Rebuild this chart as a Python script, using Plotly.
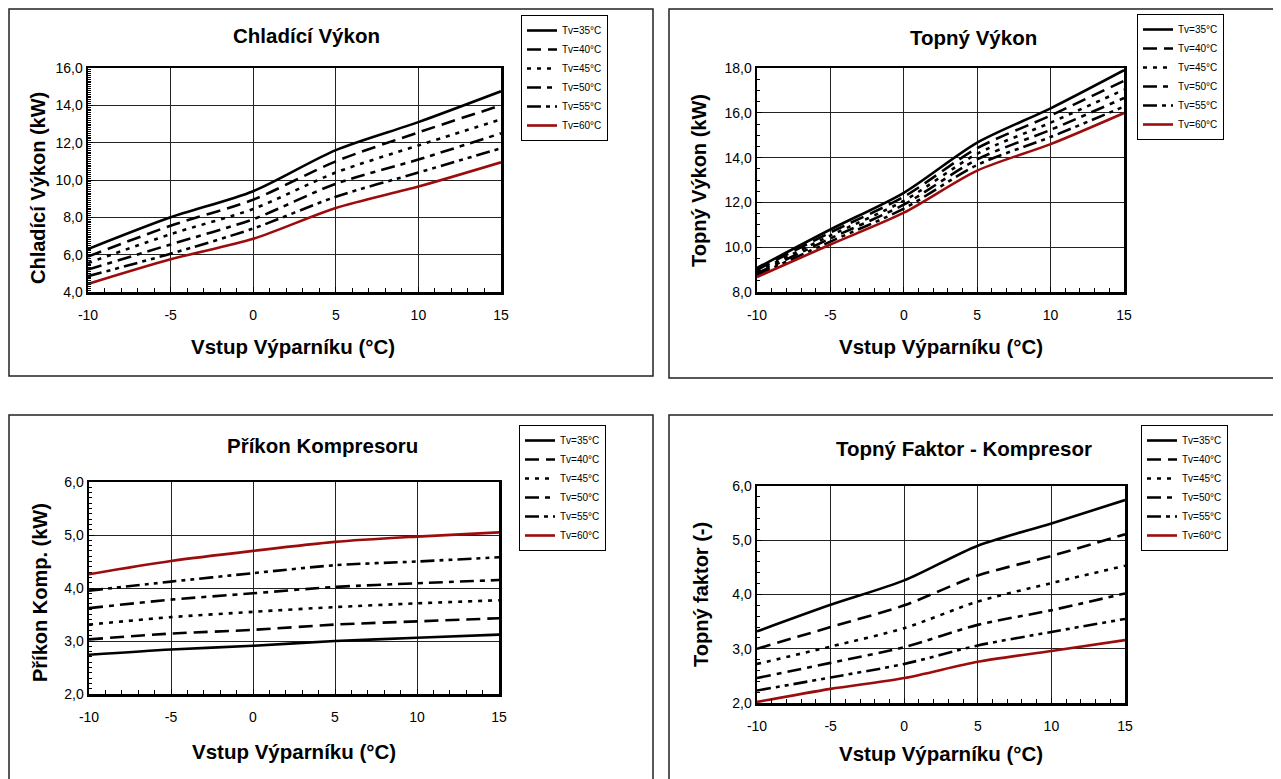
import plotly.graph_objects as go

# page has an 8px body margin: the figure is shifted by it
OFF = 8
W, H = 1281 - OFF, 779 - OFF

# ---------------- data ----------------
x_vals = [-10, -5, 0, 5, 10, 15]
x_tick_labels = ["-10", "-5", "0", "5", "10", "15"]
series_names = ["Tv=35°C", "Tv=40°C", "Tv=45°C", "Tv=50°C", "Tv=55°C", "Tv=60°C"]

# Chladící Výkon (kW)
cool_35 = [6.30, 8.00, 9.40, 11.60, 13.10, 14.75]
cool_40 = [5.90, 7.55, 8.95, 11.00, 12.55, 14.00]
cool_45 = [5.55, 7.10, 8.45, 10.40, 11.85, 13.25]
cool_50 = [5.20, 6.55, 7.90, 9.80, 11.10, 12.50]
cool_55 = [4.85, 6.05, 7.40, 9.10, 10.40, 11.70]
cool_60 = [4.43, 5.75, 6.85, 8.50, 9.65, 10.95]
cool_ticks = [4, 6, 8, 10, 12, 14, 16]
cool_tick_labels = ["4,0", "6,0", "8,0", "10,0", "12,0", "14,0", "16,0"]

# Topný Výkon (kW)
heat_35 = [9.07, 10.79, 12.43, 14.67, 16.20, 17.90]
heat_40 = [8.99, 10.66, 12.25, 14.42, 15.88, 17.43]
heat_45 = [8.91, 10.52, 12.07, 14.17, 15.56, 17.03]
heat_50 = [8.83, 10.39, 11.90, 13.92, 15.24, 16.66]
heat_55 = [8.75, 10.25, 11.72, 13.67, 14.92, 16.28]
heat_60 = [8.67, 10.12, 11.54, 13.42, 14.60, 15.99]
heat_ticks = [8, 10, 12, 14, 16, 18]
heat_tick_labels = ["8,0", "10,0", "12,0", "14,0", "16,0", "18,0"]

# Příkon Kompresoru (kW)
pow_35 = [2.74, 2.84, 2.91, 3.00, 3.06, 3.12]
pow_40 = [3.03, 3.14, 3.21, 3.31, 3.37, 3.43]
pow_45 = [3.31, 3.45, 3.55, 3.64, 3.71, 3.77]
pow_50 = [3.62, 3.78, 3.90, 4.02, 4.09, 4.15]
pow_55 = [3.95, 4.12, 4.28, 4.43, 4.50, 4.58]
pow_60 = [4.26, 4.51, 4.70, 4.87, 4.97, 5.05]
pow_ticks = [2, 3, 4, 5, 6]
pow_tick_labels = ["2,0", "3,0", "4,0", "5,0", "6,0"]

# Topný Faktor (-)
cop_35 = [3.32, 3.81, 4.26, 4.90, 5.31, 5.74]
cop_40 = [3.00, 3.40, 3.80, 4.35, 4.71, 5.11]
cop_45 = [2.72, 3.04, 3.38, 3.87, 4.21, 4.53]
cop_50 = [2.46, 2.74, 3.03, 3.44, 3.71, 4.02]
cop_55 = [2.23, 2.47, 2.72, 3.06, 3.31, 3.55]
cop_60 = [2.02, 2.26, 2.46, 2.76, 2.96, 3.16]
cop_ticks = [2, 3, 4, 5, 6]
cop_tick_labels = ["2,0", "3,0", "4,0", "5,0", "6,0"]

# ---------------- styling ----------------
RED = "#9c0c0c"
line_styles = [
    dict(color="black", dash="solid"),
    dict(color="black", dash="14px,7px"),
    dict(color="black", dash="4px,6px"),
    dict(color="black", dash="14px,6px,5px,6px"),
    dict(color="black", dash="14px,5px,4px,5px,4px,5px"),
    dict(color=RED, dash="solid"),
]
FONT = "Liberation Sans, Arial, sans-serif"


def px(x):
    return (x - OFF) / W


def py(y):
    return 1 - (y - OFF) / H


panels = [
    dict(series=[cool_35, cool_40, cool_45, cool_50, cool_55, cool_60],
         ticks=cool_ticks, labels=cool_tick_labels, rng=[4, 16], minor=0.1,
         dom_x=(88, 501), dom_y=(68, 292),
         title="Chladící Výkon", title_xy=(306, 36),
         ytitle="Chladící Výkon (kW)", ytitle_xy=(38, 188),
         xtitle_xy=(293, 346), legend_xy=(521, 15)),
    dict(series=[heat_35, heat_40, heat_45, heat_50, heat_55, heat_60],
         ticks=heat_ticks, labels=heat_tick_labels, rng=[8, 18], minor=0.5,
         dom_x=(757, 1124), dom_y=(68, 292),
         title="Topný Výkon", title_xy=(973, 38),
         ytitle="Topný Výkon (kW)", ytitle_xy=(699, 180),
         xtitle_xy=(941, 346), legend_xy=(1137, 14)),
    dict(series=[pow_35, pow_40, pow_45, pow_50, pow_55, pow_60],
         ticks=pow_ticks, labels=pow_tick_labels, rng=[2, 6], minor=0.1,
         dom_x=(89, 499), dom_y=(482, 694),
         title="Příkon Kompresoru", title_xy=(322, 445),
         ytitle="Příkon Komp. (kW)", ytitle_xy=(40, 593),
         xtitle_xy=(294, 751), legend_xy=(519, 425)),
    dict(series=[cop_35, cop_40, cop_45, cop_50, cop_55, cop_60],
         ticks=cop_ticks, labels=cop_tick_labels, rng=[2, 6], minor=0.2,
         dom_x=(757, 1125), dom_y=(486, 703),
         title="Topný Faktor - Kompresor", title_xy=(964, 448),
         ytitle="Topný faktor (-)", ytitle_xy=(701, 595),
         xtitle_xy=(941, 753), legend_xy=(1141, 425)),
]

fig = go.Figure()
annotations = []
layout_axes = {}
legends = {}

for i, p in enumerate(panels):
    n = i + 1
    xa = "x" if n == 1 else f"x{n}"
    ya = "y" if n == 1 else f"y{n}"
    lg = "legend" if n == 1 else f"legend{n}"
    for name, ys, st in zip(series_names, p["series"], line_styles):
        fig.add_trace(go.Scatter(
            x=x_vals, y=ys, name=name, mode="lines",
            line=dict(color=st["color"], dash=st["dash"], width=2.6,
                      shape="spline", smoothing=0.8),
            xaxis=xa, yaxis=ya, legend=lg, hoverinfo="skip",
        ))
    xkey = "xaxis" if n == 1 else f"xaxis{n}"
    ykey = "yaxis" if n == 1 else f"yaxis{n}"
    layout_axes[xkey] = dict(
        domain=[px(p["dom_x"][0]), px(p["dom_x"][1])],
        anchor=ya, range=[-10, 15], automargin=False,
        tickmode="array", tickvals=x_vals, ticktext=x_tick_labels,
        ticks="inside", ticklen=5, tickcolor="black", ticklabelstandoff=9,
        minor=dict(dtick=1, tick0=0, ticks="inside", ticklen=4,
                   tickcolor="black", showgrid=False),
        showgrid=True, gridcolor="#222", gridwidth=1,
        showline=True, linecolor="black", linewidth=2.5, mirror=True,
        zeroline=False, tickfont=dict(family=FONT, size=14, color="black"),
        fixedrange=True,
    )
    layout_axes[ykey] = dict(
        domain=[py(p["dom_y"][1]), py(p["dom_y"][0])],
        anchor=xa, range=p["rng"], automargin=False,
        tickmode="array", tickvals=p["ticks"], ticktext=p["labels"],
        ticks="inside", ticklen=5, tickcolor="black",
        minor=dict(dtick=p["minor"], tick0=0, ticks="inside", ticklen=3,
                   tickcolor="black", showgrid=False),
        showgrid=True, gridcolor="#222", gridwidth=1,
        showline=True, linecolor="black", linewidth=2.5, mirror=True,
        zeroline=False, tickfont=dict(family=FONT, size=14, color="black"),
        fixedrange=True,
    )
    legends[lg] = dict(
        x=px(p["legend_xy"][0]), y=py(p["legend_xy"][1]),
        xanchor="left", yanchor="top",
        bgcolor="white", bordercolor="black", borderwidth=1,
        font=dict(family=FONT, size=10, color="black"),
        traceorder="normal", itemclick=False, itemdoubleclick=False,
    )
    annotations.append(dict(
        text=p["title"], x=px(p["title_xy"][0]), y=py(p["title_xy"][1]),
        xref="paper", yref="paper", showarrow=False,
        xanchor="center", yanchor="middle",
        font=dict(family=FONT, size=20.5, color="black", weight="bold")))
    annotations.append(dict(
        text="Vstup Výparníku (°C)", x=px(p["xtitle_xy"][0]), y=py(p["xtitle_xy"][1]),
        xref="paper", yref="paper", showarrow=False,
        xanchor="center", yanchor="middle",
        font=dict(family=FONT, size=20.5, color="black", weight="bold")))
    annotations.append(dict(
        text=p["ytitle"], x=px(p["ytitle_xy"][0]), y=py(p["ytitle_xy"][1]),
        xref="paper", yref="paper", showarrow=False, textangle=-90,
        xanchor="center", yanchor="middle",
        font=dict(family=FONT, size=20, color="black", weight="bold")))

# panel frames (left/top edges kept just inside the drawable area)
boxes = [(9, 9, 653, 376), (669, 9, 1290, 378), (9, 415, 653, 790), (669, 415, 1290, 790)]
shapes = [dict(type="rect", xref="paper", yref="paper",
               x0=px(b[0]), x1=px(b[2]), y0=py(b[3]), y1=py(b[1]),
               line=dict(color="#222", width=1.5), fillcolor="rgba(0,0,0,0)",
               layer="below") for b in boxes]

fig.update_layout(
    template="none",
    width=W, height=H, margin=dict(l=0, r=0, t=0, b=0, pad=0, autoexpand=False),
    paper_bgcolor="white", plot_bgcolor="white",
    font=dict(family=FONT, color="black"),
    annotations=annotations, shapes=shapes,
    **layout_axes, **legends,
)

fig.write_html("out.html", config={"displayModeBar": False, "staticPlot": True})
